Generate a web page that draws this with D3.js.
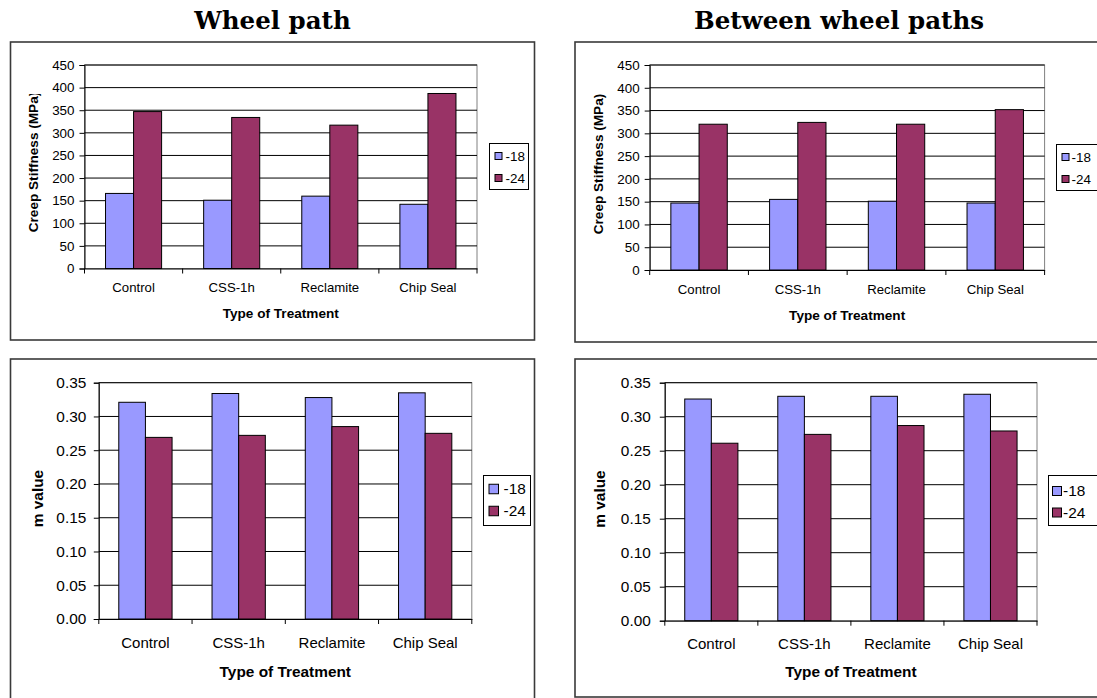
<!DOCTYPE html>
<html>
<head>
<meta charset="utf-8">
<script src="https://cdn.jsdelivr.net/npm/d3@7"></script>
<style>
  body { margin: 0; background: #fff; }
  svg { display: block; }
</style>
</head>
<body>
<svg id="chart" width="1097" height="698"></svg>
<script>
// Treatments and test temperatures (°C)
const categories = ["Control", "CSS-1h", "Reclamite", "Chip Seal"];
const seriesNames = ["-18", "-24"];
const seriesColors = ["#9999FF", "#993366"];

// Creep stiffness (MPa)
const stiffWheel18 = [166, 151, 160, 142];
const stiffWheel24 = [347, 334, 317, 387];
const stiffBetween18 = [147, 155, 151, 147];
const stiffBetween24 = [320, 324, 320, 352];

// m value
const mWheel18 = [0.321, 0.334, 0.328, 0.335];
const mWheel24 = [0.269, 0.272, 0.285, 0.275];
const mBetween18 = [0.326, 0.330, 0.330, 0.333];
const mBetween24 = [0.261, 0.274, 0.287, 0.279];

// Axis ticks
const stiffTicks = [0, 50, 100, 150, 200, 250, 300, 350, 400, 450];
const mTicks = [0, 0.05, 0.10, 0.15, 0.20, 0.25, 0.30, 0.35];

const columnTitles = ["Wheel path", "Between wheel paths"];
const xTitle = "Type of Treatment";

const svg = d3.select("#chart");
const SANS = "'Liberation Sans', Arial, sans-serif";

// Column headings
svg.selectAll("text.col-title")
  .data(columnTitles)
  .join("text")
  .attr("class", "col-title")
  .attr("x", (d, i) => [272.5, 839][i])
  .attr("y", 29)
  .attr("text-anchor", "middle")
  .attr("font-family", "'DejaVu Serif', 'Liberation Serif', serif")
  .attr("font-weight", "bold")
  .attr("font-size", 24.5)
  .attr("fill", "#000")
  .text(d => d);

let clipId = 0;

function drawPanel(cfg) {
  const g = svg.append("g");
  const { frame, plot, legend, fs } = cfg;

  // outer chart frame
  g.append("rect")
    .attr("x", frame.x).attr("y", frame.y)
    .attr("width", frame.w).attr("height", frame.h)
    .attr("fill", "#fff")
    .attr("stroke", "#3a3a3a")
    .attr("stroke-width", 1.6);

  const y = d3.scaleLinear().domain(cfg.domain).range([plot.b, plot.t]);
  const x0 = d3.scaleBand().domain(categories).range([plot.l, plot.r]).padding(0);
  const groupW = x0.bandwidth() * 2 / 3.5;
  const x1 = d3.scaleBand().domain(seriesNames).range([0, groupW]).padding(0);

  // plot area border
  g.append("rect")
    .attr("x", plot.l).attr("y", plot.t)
    .attr("width", plot.r - plot.l).attr("height", plot.b - plot.t)
    .attr("fill", "#fff")
    .attr("stroke", "#808080")
    .attr("stroke-width", 1);

  // horizontal gridlines
  g.append("g")
    .selectAll("line")
    .data(cfg.ticks.filter(t => t > 0))
    .join("line")
    .attr("x1", plot.l).attr("x2", plot.r)
    .attr("y1", d => y(d)).attr("y2", d => y(d))
    .attr("stroke", "#000")
    .attr("stroke-width", 1);

  // bars
  const rows = categories.map((c, i) => ({
    cat: c,
    vals: seriesNames.map((s, k) => ({ s, k, v: cfg.series[k][i] }))
  }));
  g.append("g")
    .selectAll("g")
    .data(rows)
    .join("g")
    .attr("transform", d => `translate(${x0(d.cat) + (x0.bandwidth() - groupW) / 2},0)`)
    .selectAll("rect")
    .data(d => d.vals)
    .join("rect")
    .attr("x", d => x1(d.s))
    .attr("y", d => y(d.v))
    .attr("width", x1.bandwidth())
    .attr("height", d => y(0) - y(d.v))
    .attr("fill", d => seriesColors[d.k])
    .attr("stroke", "#000")
    .attr("stroke-width", 1);

  // y axis
  const yAxis = g.append("g")
    .attr("transform", `translate(${plot.l},0)`)
    .call(d3.axisLeft(y).tickValues(cfg.ticks).tickFormat(cfg.fmt)
      .tickSize(5).tickPadding(cfg.tickPad));
  yAxis.select(".domain").attr("stroke", "#000");
  yAxis.selectAll(".tick line").attr("stroke", "#000");
  yAxis.selectAll("text")
    .attr("font-family", SANS).attr("font-size", fs.tick).attr("fill", "#000");

  // x axis: labels centred under groups, tick marks at category boundaries
  const xAxis = g.append("g")
    .attr("transform", `translate(0,${plot.b})`)
    .call(d3.axisBottom(x0).tickSize(0).tickPadding(cfg.catPad));
  xAxis.select(".domain").attr("stroke", "#000");
  xAxis.selectAll("text")
    .attr("font-family", SANS).attr("font-size", fs.cat).attr("fill", "#000");
  const bounds = categories.map(c => x0(c)).concat([x0.range()[1]]);
  g.append("g")
    .selectAll("line")
    .data(bounds)
    .join("line")
    .attr("x1", d => d).attr("x2", d => d)
    .attr("y1", plot.b).attr("y2", plot.b + 5)
    .attr("stroke", "#000");

  // x title
  g.append("text")
    .attr("x", (plot.l + plot.r) / 2)
    .attr("y", cfg.xTitleY)
    .attr("text-anchor", "middle")
    .attr("font-family", SANS).attr("font-weight", "bold")
    .attr("font-size", fs.title)
    .text(xTitle);

  // y title (top edge trimmed by the chart's title area)
  const id = "yclip" + (clipId++);
  g.append("clipPath").attr("id", id)
    .append("rect")
    .attr("x", cfg.yTitleX - 20).attr("y", cfg.yClipTop)
    .attr("width", 40).attr("height", 400);
  g.append("g").attr("clip-path", `url(#${id})`)
    .append("text")
    .attr("transform", `translate(${cfg.yTitleX},${cfg.yTitleCY}) rotate(-90)`)
    .attr("text-anchor", "middle")
    .attr("dy", "0.35em")
    .attr("font-family", SANS).attr("font-weight", "bold")
    .attr("font-size", fs.title)
    .text(cfg.yTitle);

  // legend
  const lg = g.append("g");
  lg.append("rect")
    .attr("x", legend.x).attr("y", legend.y)
    .attr("width", legend.w).attr("height", legend.h)
    .attr("fill", "#fff").attr("stroke", "#000").attr("stroke-width", 1);
  const items = lg.selectAll("g")
    .data(seriesNames)
    .join("g")
    .attr("transform", (d, i) => `translate(${legend.x},${legend.y + legend.rows[i]})`);
  items.append("rect")
    .attr("x", legend.sx).attr("y", -legend.sw / 2)
    .attr("width", legend.sw).attr("height", legend.sw)
    .attr("fill", (d, i) => seriesColors[i])
    .attr("stroke", "#000").attr("stroke-width", 1);
  items.append("text")
    .attr("x", legend.tx).attr("dy", "0.35em")
    .attr("font-family", SANS).attr("font-size", fs.legend)
    .text(d => d);
}

const topFonts = { tick: 13.4, cat: 13.2, title: 13.6, legend: 13.4 };
const botFonts = { tick: 15.4, cat: 15, title: 15.4, legend: 15.4 };

drawPanel({
  frame: { x: 10.5, y: 42, w: 524, h: 298 },
  plot: { l: 84.5, r: 477, t: 65, b: 268.5 },
  legend: { x: 489.5, y: 143.5, w: 39, h: 46, rows: [12.5, 34.5], sx: 5.5, sw: 7, tx: 16 },
  fs: topFonts,
  domain: [0, 450], ticks: stiffTicks, fmt: d3.format("d"),
  series: [stiffWheel18, stiffWheel24],
  tickPad: 5, catPad: 14, xTitleY: 318,
  yTitle: "Creep Stiffness (MPa)", yTitleX: 33.5, yTitleCY: 162, yClipTop: 94
});

drawPanel({
  frame: { x: 575, y: 42, w: 600, h: 300 },
  plot: { l: 649.7, r: 1044.6, t: 65, b: 270 },
  legend: { x: 1056.5, y: 144.5, w: 60, h: 46, rows: [12.5, 34.5], sx: 5.5, sw: 7, tx: 15 },
  fs: topFonts,
  domain: [0, 450], ticks: stiffTicks, fmt: d3.format("d"),
  series: [stiffBetween18, stiffBetween24],
  tickPad: 5, catPad: 15, xTitleY: 320,
  yTitle: "Creep Stiffness (MPa)", yTitleX: 598.6, yTitleCY: 164, yClipTop: 94
});

drawPanel({
  frame: { x: 10.5, y: 359, w: 524, h: 400 },
  plot: { l: 98.8, r: 471.8, t: 382.7, b: 619 },
  legend: { x: 483.5, y: 475.5, w: 47, h: 50, rows: [13.5, 35.5], sx: 5.5, sw: 9.5, tx: 20 },
  fs: botFonts,
  domain: [0, 0.35], ticks: mTicks, fmt: d3.format(".2f"),
  series: [mWheel18, mWheel24],
  tickPad: 7.5, catPad: 18, xTitleY: 677,
  yTitle: "m value", yTitleX: 38, yTitleCY: 498.5, yClipTop: 380
});

drawPanel({
  frame: { x: 575, y: 359, w: 600, h: 338 },
  plot: { l: 664.8, r: 1037, t: 382.7, b: 620.7 },
  legend: { x: 1048.5, y: 475.5, w: 60, h: 50, rows: [15.5, 37], sx: 4, sw: 9, tx: 14.5 },
  fs: botFonts,
  domain: [0, 0.35], ticks: mTicks, fmt: d3.format(".2f"),
  series: [mBetween18, mBetween24],
  tickPad: 9, catPad: 18, xTitleY: 677,
  yTitle: "m value", yTitleX: 600, yTitleCY: 499, yClipTop: 380
});
</script>
</body>
</html>
